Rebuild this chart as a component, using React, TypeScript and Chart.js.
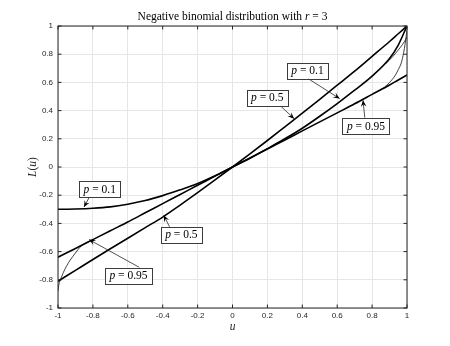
import React, { useEffect, useRef } from 'react';
import { Chart, registerables } from 'chart.js';

Chart.register(...registerables);

// ---- data ----
const tickValues = [-1, -0.8, -0.6, -0.4, -0.2, 0, 0.2, 0.4, 0.6, 0.8, 1];

const uThick = [-1, -0.9, -0.8, -0.7, -0.6, -0.5, -0.4, -0.3, -0.2, -0.1, 0, 0.1, 0.2, 0.3, 0.4, 0.5, 0.6, 0.7, 0.8, 0.9, 0.95, 1];
const L_p01 = [-0.3, -0.298, -0.293, -0.283, -0.264, -0.238, -0.203, -0.162, -0.117, -0.062, 0, 0.062, 0.13, 0.2, 0.275, 0.36, 0.45, 0.545, 0.645, 0.77, 0.865, 1.0];
const L_p05 = [-0.81, -0.733, -0.656, -0.58, -0.505, -0.43, -0.355, -0.27, -0.182, -0.092, 0, 0.093, 0.188, 0.285, 0.382, 0.48, 0.58, 0.68, 0.785, 0.89, 0.945, 1.0];
const L_p095 = [-0.64, -0.578, -0.515, -0.452, -0.39, -0.325, -0.26, -0.195, -0.13, -0.065, 0, 0.064, 0.128, 0.192, 0.256, 0.32, 0.384, 0.448, 0.515, 0.582, 0.617, 0.652];

const uThinLeft = [-1, -0.997, -0.99, -0.98, -0.97, -0.95, -0.93, -0.9, -0.875, -0.85, -0.82, -0.8];
const L_thinLeft = [-0.88, -0.85, -0.81, -0.78, -0.75, -0.7, -0.66, -0.61, -0.57, -0.545, -0.528, -0.515];

const uThinRightA = [0.84, 0.87, 0.9, 0.93, 0.95, 0.97, 0.985, 1];
const L_thinRightA = [0.54, 0.565, 0.6, 0.645, 0.69, 0.75, 0.84, 0.97];

const uThinRightB = [0.88, 0.92, 0.95, 0.975, 1];
const L_thinRightB = [0.735, 0.785, 0.83, 0.87, 0.92];

// annotation labels: text, box centre, arrow tail, arrow head (data units)
const annotationLabels = ['0.1', '0.5', '0.95', '0.1', '0.5', '0.95'];
const annotationBox = [[0.43, 0.684], [0.199, 0.49], [0.765, 0.29], [-0.761, -0.157], [-0.293, -0.481], [-0.596, -0.77]];
const annotationTail = [[0.433, 0.627], [0.271, 0.438], [0.758, 0.35], [-0.818, -0.208], [-0.36, -0.426], [-0.532, -0.713]];
const annotationHead = [[0.614, 0.485], [0.353, 0.343], [0.748, 0.473], [-0.851, -0.284], [-0.394, -0.343], [-0.822, -0.515]];

const SERIF = '"Liberation Serif", "DejaVu Serif", serif';
const SANS = '"Liberation Sans", Arial, sans-serif';
const AXIS_COLOR = '#262626';

type Part = { t: string; i?: boolean };

function partsWidth(ctx: CanvasRenderingContext2D, parts: Part[], size: number) {
  let w = 0;
  for (const p of parts) {
    ctx.font = `${p.i ? 'italic ' : ''}${size}px ${SERIF}`;
    w += ctx.measureText(p.t).width;
  }
  return w;
}

function drawParts(ctx: CanvasRenderingContext2D, parts: Part[], cx: number, cy: number, size: number, color = '#000') {
  const w = partsWidth(ctx, parts, size);
  let x = cx - w / 2;
  ctx.fillStyle = color;
  ctx.textBaseline = 'middle';
  ctx.textAlign = 'left';
  for (const p of parts) {
    ctx.font = `${p.i ? 'italic ' : ''}${size}px ${SERIF}`;
    ctx.fillText(p.t, x, cy);
    x += ctx.measureText(p.t).width;
  }
}

const toPoints = (xs: number[], ys: number[]) => xs.map((x, k) => ({ x, y: ys[k] }));

const decorPlugin = {
  id: 'decor',
  afterDatasetsDraw(chart: any) {
    const { ctx, chartArea } = chart;
    const xs = chart.scales.x;
    const ys = chart.scales.y;
    const { left, right, top, bottom } = chartArea;
    ctx.save();
    // box
    ctx.strokeStyle = AXIS_COLOR;
    ctx.lineWidth = 1;
    ctx.strokeRect(left, top, right - left, bottom - top);
    // inner ticks
    const tl = 3.5;
    ctx.beginPath();
    for (const v of tickValues) {
      const px = xs.getPixelForValue(v);
      ctx.moveTo(px, bottom);
      ctx.lineTo(px, bottom - tl);
      ctx.moveTo(px, top);
      ctx.lineTo(px, top + tl);
      const py = ys.getPixelForValue(v);
      ctx.moveTo(left, py);
      ctx.lineTo(left + tl, py);
      ctx.moveTo(right, py);
      ctx.lineTo(right - tl, py);
    }
    ctx.stroke();

    // annotations
    for (let k = 0; k < annotationLabels.length; k++) {
      const tx = xs.getPixelForValue(annotationTail[k][0]);
      const ty = ys.getPixelForValue(annotationTail[k][1]);
      const hx = xs.getPixelForValue(annotationHead[k][0]);
      const hy = ys.getPixelForValue(annotationHead[k][1]);
      ctx.strokeStyle = AXIS_COLOR;
      ctx.lineWidth = 0.8;
      ctx.beginPath();
      ctx.moveTo(tx, ty);
      ctx.lineTo(hx, hy);
      ctx.stroke();
      const ang = Math.atan2(hy - ty, hx - tx);
      const len = 6.5;
      const hw = 2.8;
      const bx = hx - len * Math.cos(ang);
      const by = hy - len * Math.sin(ang);
      const nx = -Math.sin(ang);
      const ny = Math.cos(ang);
      const ix = hx - len * 0.6 * Math.cos(ang);
      const iy = hy - len * 0.6 * Math.sin(ang);
      ctx.fillStyle = '#000';
      ctx.beginPath();
      ctx.moveTo(hx, hy);
      ctx.lineTo(bx + nx * hw, by + ny * hw);
      ctx.lineTo(ix, iy);
      ctx.lineTo(bx - nx * hw, by - ny * hw);
      ctx.closePath();
      ctx.fill();

      const parts: Part[] = [{ t: 'p', i: true }, { t: ' = ' + annotationLabels[k] }];
      const size = 11.5;
      const w = partsWidth(ctx, parts, size) + 9;
      const h = 16;
      const cx = xs.getPixelForValue(annotationBox[k][0]);
      const cy = ys.getPixelForValue(annotationBox[k][1]);
      ctx.fillStyle = '#fff';
      ctx.fillRect(cx - w / 2, cy - h / 2, w, h);
      ctx.strokeStyle = '#3c3c3c';
      ctx.lineWidth = 1;
      ctx.strokeRect(Math.round(cx - w / 2) + 0.5, Math.round(cy - h / 2) + 0.5, Math.round(w), h);
      drawParts(ctx, parts, cx, cy + 0.5, size, '#000');
    }

    // title
    const mid = (left + right) / 2;
    drawParts(
      ctx,
      [{ t: 'Negative binomial distribution with ' }, { t: 'r', i: true }, { t: ' = 3' }],
      mid,
      16.5,
      11.5,
      '#000'
    );
    // x label
    drawParts(ctx, [{ t: 'u', i: true }], mid, 327, 11.5, AXIS_COLOR);
    // y label
    ctx.translate(33, (top + bottom) / 2);
    ctx.rotate(-Math.PI / 2);
    drawParts(ctx, [{ t: 'L', i: true }, { t: '(' }, { t: 'u', i: true }, { t: ')' }], 0, 0, 11.5, AXIS_COLOR);
    ctx.restore();
  },
};

export default function App() {
  const ref = useRef<HTMLCanvasElement | null>(null);
  useEffect(() => {
    if (!ref.current) return;
    const thick = (xs: number[], ys: number[]) => ({
      data: toPoints(xs, ys),
      borderColor: '#000',
      borderWidth: 1.6,
      pointRadius: 0,
      fill: false,
      cubicInterpolationMode: 'monotone' as const,
    });
    const thin = (xs: number[], ys: number[]) => ({
      data: toPoints(xs, ys),
      borderColor: '#111',
      borderWidth: 0.8,
      pointRadius: 0,
      fill: false,
      cubicInterpolationMode: 'monotone' as const,
    });
    const chart = new Chart(ref.current, {
      type: 'line',
      data: {
        datasets: [
          thick(uThick, L_p01),
          thick(uThick, L_p05),
          thick(uThick, L_p095),
          thin(uThinLeft, L_thinLeft),
          thin(uThinRightA, L_thinRightA),
          thin(uThinRightB, L_thinRightB),
        ],
      },
      options: {
        animation: false,
        responsive: false,
        events: [],
        layout: { padding: { top: 26, right: 43, left: 0, bottom: 0 } },
        plugins: { legend: { display: false }, tooltip: { enabled: false }, title: { display: false } },
        scales: {
          x: {
            type: 'linear',
            min: -1,
            max: 1,
            afterFit: (s: any) => { s.height = 38; },
            afterBuildTicks: (s: any) => { s.ticks = tickValues.map((v) => ({ value: v })); },
            ticks: {
              callback: (v: any) => String(Math.round(Number(v) * 10) / 10),
              font: { family: SANS, size: 8 },
              color: AXIS_COLOR,
              padding: 3,
              maxRotation: 0,
              autoSkip: false,
            },
            grid: { color: '#e6e6e6', lineWidth: 1, drawTicks: false },
            border: { display: false },
          },
          y: {
            type: 'linear',
            min: -1,
            max: 1,
            afterFit: (s: any) => { s.width = 58; },
            afterBuildTicks: (s: any) => { s.ticks = tickValues.map((v) => ({ value: v })); },
            ticks: {
              callback: (v: any) => String(Math.round(Number(v) * 10) / 10),
              font: { family: SANS, size: 8 },
              color: AXIS_COLOR,
              padding: 5,
              autoSkip: false,
            },
            grid: { color: '#e6e6e6', lineWidth: 1, drawTicks: false },
            border: { display: false },
          },
        },
      },
      plugins: [decorPlugin],
    });
    return () => chart.destroy();
  }, []);
  return (
    <div style={{ position: 'fixed', left: 0, top: 0, width: 450, height: 346, background: '#fff' }}>
      <canvas ref={ref} width={450} height={346} style={{ display: 'block' }} />
    </div>
  );
}
